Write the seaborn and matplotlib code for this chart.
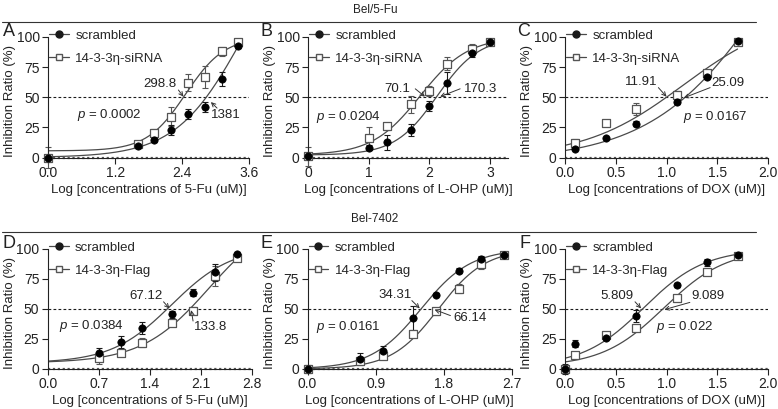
import numpy as np
import pandas as pd
import matplotlib
matplotlib.use("Agg")
import matplotlib.pyplot as plt
import seaborn as sns
from matplotlib.lines import Line2D

sns.set_theme(style="ticks")
plt.rcParams['font.family'] = ['Liberation Sans', 'DejaVu Sans']
plt.rcParams['mathtext.fontset'] = 'custom'
plt.rcParams['mathtext.it'] = 'Liberation Sans:italic'
plt.rcParams['mathtext.rm'] = 'Liberation Sans'

# ---------------- data ----------------
# Panel A (Bel/5-Fu, 5-Fu)
A_x = [0, 1.6, 1.9, 2.2, 2.5, 2.8, 3.1, 3.4]
A_scr = [0, 9.5, 14.5, 23, 36, 42, 65, 92.5]
A_scr_err = [0, 2, 2, 4, 4, 4, 6, 2]
A_mod = [0, 11, 20, 34, 62, 67, 88, 96]
A_mod_err = [9, 3, 4, 8, 7, 9, 4, 1]
# Panel B (Bel/5-Fu, L-OHP)
B_x = [0, 1, 1.3, 1.7, 2.0, 2.3, 2.7, 3.0]
B_scr = [1, 8, 12.5, 22.5, 43, 62, 87, 96]
B_scr_err = [0, 2, 6, 5, 4, 9, 4, 1]
B_mod = [1, 16, 26, 44, 55, 78, 90, 96]
B_mod_err = [8, 9, 3, 7, 4, 5, 4, 1]
# Panel C (Bel/5-Fu, DOX)
C_x = [0.1, 0.4, 0.7, 1.1, 1.4, 1.7]
C_scr = [7, 16, 28, 46, 67, 97]
C_scr_err = [1, 1, 2, 2, 2, 1]
C_mod = [12, 29, 40, 52, 70, 96]
C_mod_err = [3, 1, 5, 3, 3, 1]
# Panel D (Bel-7402, 5-Fu)
D_x = [0.7, 1.0, 1.3, 1.7, 2.0, 2.3, 2.6]
D_scr = [13.5, 22.5, 34, 45.5, 63.5, 80.5, 96]
D_scr_err = [4, 5, 5, 3, 3, 7, 1]
D_mod = [9.5, 13.5, 22, 38, 48.5, 77.5, 92.5]
D_mod_err = [5, 1, 4, 1, 3, 8, 1]
# Panel E (Bel-7402, L-OHP)
E_x = [0, 0.7, 1.0, 1.4, 1.7, 2.0, 2.3, 2.6]
E_scr = [0, 8.5, 15, 42.5, 62, 82, 92, 95]
E_scr_err = [0, 5, 4, 10, 1, 2, 2, 1]
E_mod = [0, 6.5, 11, 29, 48, 67, 87.5, 95]
E_mod_err = [3, 1, 1, 1, 3, 4, 4, 1]
# Panel F (Bel-7402, DOX)
F_x = [0, 0.1, 0.4, 0.7, 1.1, 1.4, 1.7]
F_scr = [0, 21, 26, 44, 70, 89, 95]
F_scr_err = [4, 3, 2, 5, 2, 3, 1]
F_mod = [0, 12, 28, 34, 59, 81, 94.5]
F_mod_err = [0, 1, 2, 1, 1, 1, 1]

# fitted 4-parameter logistic curves: bottom, top, logEC50, hill
A_scr_fit = [0, 200, 3.49, 0.72]
A_mod_fit = [5.5, 100, 2.46, 1.25]
B_scr_fit = [2, 100, 2.13, 1.25]
B_mod_fit = [2, 100, 1.85, 1.1]
C_scr_fit = [-3, 300, 2.12, 0.72]
C_mod_fit = [0, 120, 1.164, 0.89]
D_scr_fit = [5, 102, 1.70, 1.05]
D_mod_fit = [5, 130, 2.216, 0.94]
E_scr_fit = [0, 100, 1.50, 1.32]
E_mod_fit = [0, 100, 1.73, 1.4]
F_scr_fit = [2, 100, 0.775, 1.44]
F_mod_fit = [2, 100, 0.975, 1.42]

letters = ['A', 'B', 'C', 'D', 'E', 'F']
drugs = ['5-Fu', 'L-OHP', 'DOX', '5-Fu', 'L-OHP', 'DOX']
mod_labels = ['14-3-3η-siRNA'] * 3 + ['14-3-3η-Flag'] * 3
ic50_scr = ['1381', '170.3', '25.09', '67.12', '34.31', '5.809']
ic50_mod = ['298.8', '70.1', '11.91', '133.8', '66.14', '9.089']
p_values = ['0.0002', '0.0204', '0.0167', '0.0384', '0.0161', '0.022']
A_ticks = [0, 1.2, 2.4, 3.6]
B_ticks = [0, 1, 2, 3]
C_ticks = [0, 0.5, 1.0, 1.5, 2.0]
D_ticks = [0, 0.7, 1.4, 2.1, 2.8]
E_ticks = [0, 0.9, 1.8, 2.7]
F_ticks = [0, 0.5, 1.0, 1.5, 2.0]
A_ticklabels = ['0.0', '1.2', '2.4', '3.6']
B_ticklabels = ['0', '1', '2', '3']
C_ticklabels = ['0.0', '0.5', '1.0', '1.5', '2.0']
D_ticklabels = ['0.0', '0.7', '1.4', '2.1', '2.8']
E_ticklabels = ['0.0', '0.9', '1.8', '2.7']
F_ticklabels = ['0.0', '0.5', '1.0', '1.5', '2.0']
y_ticks = [0, 25, 50, 75, 100]
group_titles = ['Bel/5-Fu', 'Bel-7402']

# ---------------- layout (pixels) ----------------
W, H = 778, 409
fig = plt.figure(figsize=(W / 100, H / 100), dpi=100)

boxes = [(48, 249.5, 37, 157.5), (308, 508, 37, 157.5), (565, 768, 37, 157.5),
         (47.7, 251.7, 249, 369), (307.5, 511.7, 249, 369), (565, 768, 249, 369)]
xlims = [3.6, 3.3, 2.0, 2.8, 2.7, 2.0]

# annotation layout (data coords): (text pos, tail, tip)
ann_mod = [((2.0, 61), (2.33, 56), (2.42, 50.5)),
           ((1.48, 57), (1.77, 57), (1.93, 50.5)),
           ((0.755, 63), (0.92, 58), (1.0, 50.5)),
           ((2.24, 35), (1.995, 40), (1.97, 49)),
           ((2.15, 42.5), (1.89, 44.5), (1.68, 49.5)),
           ((1.41, 60.5), (1.23, 55.5), (0.98, 49.5))]
ann_scr = [((3.18, 35), (3.02, 41), (2.91, 46)),
           ((2.84, 57), (2.51, 57), (2.18, 50.5)),
           ((1.6, 62), (1.43, 58), (1.17, 49.5)),
           ((1.344, 61), (1.59, 56), (1.67, 50.5)),
           ((1.163, 62), (1.38, 57), (1.484, 50.5)),
           ((0.508, 60.5), (0.69, 56), (0.75, 50.5))]
p_pos = [(0.51, 35.5), (0.14, 33.7), (1.165, 33.8), (0.15, 36), (0.11, 34.7), (0.9, 34.7)]
letter_pos = [(9, 31), (267, 31), (524, 31), (9, 243), (267, 243), (525, 243)]

xs_all = [A_x, B_x, C_x, D_x, E_x, F_x]
scr_all = [A_scr, B_scr, C_scr, D_scr, E_scr, F_scr]
scr_err_all = [A_scr_err, B_scr_err, C_scr_err, D_scr_err, E_scr_err, F_scr_err]
mod_all = [A_mod, B_mod, C_mod, D_mod, E_mod, F_mod]
mod_err_all = [A_mod_err, B_mod_err, C_mod_err, D_mod_err, E_mod_err, F_mod_err]
scr_fit_all = [A_scr_fit, B_scr_fit, C_scr_fit, D_scr_fit, E_scr_fit, F_scr_fit]
mod_fit_all = [A_mod_fit, B_mod_fit, C_mod_fit, D_mod_fit, E_mod_fit, F_mod_fit]
ticks_all = [A_ticks, B_ticks, C_ticks, D_ticks, E_ticks, F_ticks]
ticklabels_all = [A_ticklabels, B_ticklabels, C_ticklabels, D_ticklabels, E_ticklabels, F_ticklabels]


def logistic(x, p):
    b, t, c, h = p
    return b + (t - b) / (1.0 + 10 ** ((c - x) * h))


CURVE = '#4a4a4a'
OPEN = '#555555'
TXT = '#222222'
FS = 9.5

for i in range(6):
    l, r, t, b = boxes[i]
    ax = fig.add_axes([l / W, 1 - b / H, (r - l) / W, (b - t) / H])
    x = np.array(xs_all[i], dtype=float)
    df = pd.DataFrame({'x': x, 'scr': scr_all[i], 'mod': mod_all[i]})
    xf = np.linspace(0, x.max(), 200)
    sns.lineplot(x=xf, y=logistic(xf, mod_fit_all[i]), ax=ax, color=CURVE, lw=0.9)
    sns.lineplot(x=xf, y=logistic(xf, scr_fit_all[i]), ax=ax, color=CURVE, lw=0.9)
    ax.axhline(50, color='k', lw=0.8, ls=(0, (2.5, 2)), zorder=1)
    # GraphPad-style hatched baseline on the x axis
    ax.axhline(0, color='#555555', lw=1.6, ls=(0, (1, 1.2)), zorder=1.5, clip_on=False)
    ax.errorbar(x, mod_all[i], yerr=mod_err_all[i], fmt='none', ecolor=OPEN,
                elinewidth=0.8, capsize=2.5, capthick=0.8, clip_on=False, zorder=2)
    ax.errorbar(x, scr_all[i], yerr=scr_err_all[i], fmt='none', ecolor='k',
                elinewidth=0.8, capsize=2.5, capthick=0.8, clip_on=False, zorder=2)
    sns.scatterplot(data=df, x='x', y='mod', ax=ax, marker='s', s=26, color='white',
                    edgecolor=OPEN, linewidth=0.9, clip_on=False, zorder=3)
    sns.scatterplot(data=df, x='x', y='scr', ax=ax, marker='o', s=28, color='black',
                    edgecolor='black', linewidth=0.5, clip_on=False, zorder=4)

    ax.set_xlim(0, xlims[i])
    ax.set_ylim(0, 100)
    ax.set_xticks(ticks_all[i])
    ax.set_xticklabels(ticklabels_all[i])
    ax.set_yticks(y_ticks)
    sns.despine(ax=ax)
    for s in ['left', 'bottom']:
        ax.spines[s].set_linewidth(0.8)
        ax.spines[s].set_color(TXT)
    ax.tick_params(direction='out', length=4, width=0.8, labelsize=10, pad=2, colors=TXT)
    ax.set_xlabel(f'Log [concentrations of {drugs[i]} (uM)]', fontsize=FS, color=TXT)
    ax.set_ylabel('Inhibition Ratio (%)', fontsize=FS, color=TXT)
    wpx = r - l
    hpx = b - t
    ax.yaxis.set_label_coords(-32 / wpx, 0.47)
    ax.xaxis.set_label_coords(0.5, -26 / hpx)

    # legend
    handles = [Line2D([0], [0], color=CURVE, lw=0.9, marker='o', ms=5, mfc='k', mec='k'),
               Line2D([0], [0], color=CURVE, lw=0.9, marker='s', ms=5, mfc='white', mec=OPEN)]
    ax.legend(handles, ['scrambled', mod_labels[i]], loc='upper left',
              bbox_to_anchor=(0.005, 1.06), frameon=False, fontsize=FS,
              handlelength=1.5, handletextpad=0.5, labelspacing=0.8,
              borderaxespad=0, borderpad=0)

    # IC50 annotations
    for lab, (tp, tail, tip) in [(ic50_mod[i], ann_mod[i]), (ic50_scr[i], ann_scr[i])]:
        ax.text(tp[0], tp[1], lab, fontsize=FS, ha='center', va='center', color=TXT)
        ax.annotate('', xy=tip, xytext=tail,
                    arrowprops=dict(arrowstyle='->', lw=0.7, color='#333333',
                                    shrinkA=0, shrinkB=0, mutation_scale=7))
    ax.text(p_pos[i][0], p_pos[i][1], f'$p$ = {p_values[i]}', fontsize=FS,
            ha='left', va='center', color=TXT)

    fig.text(letter_pos[i][0] / W, 1 - letter_pos[i][1] / H, letters[i], fontsize=13,
             ha='center', va='center', color=TXT)

# group titles and separator lines
for ty, ly, title in [(10, 21.7, group_titles[0]), (219, 232, group_titles[1])]:
    fig.text(375 / W, 1 - ty / H, title, fontsize=8.5, ha='center', va='center', color=TXT)
    fig.add_artist(Line2D([2 / W, 756 / W], [1 - ly / H, 1 - ly / H],
                          transform=fig.transFigure, color='#333333', lw=0.8))

fig.savefig('out.png', dpi=100)
